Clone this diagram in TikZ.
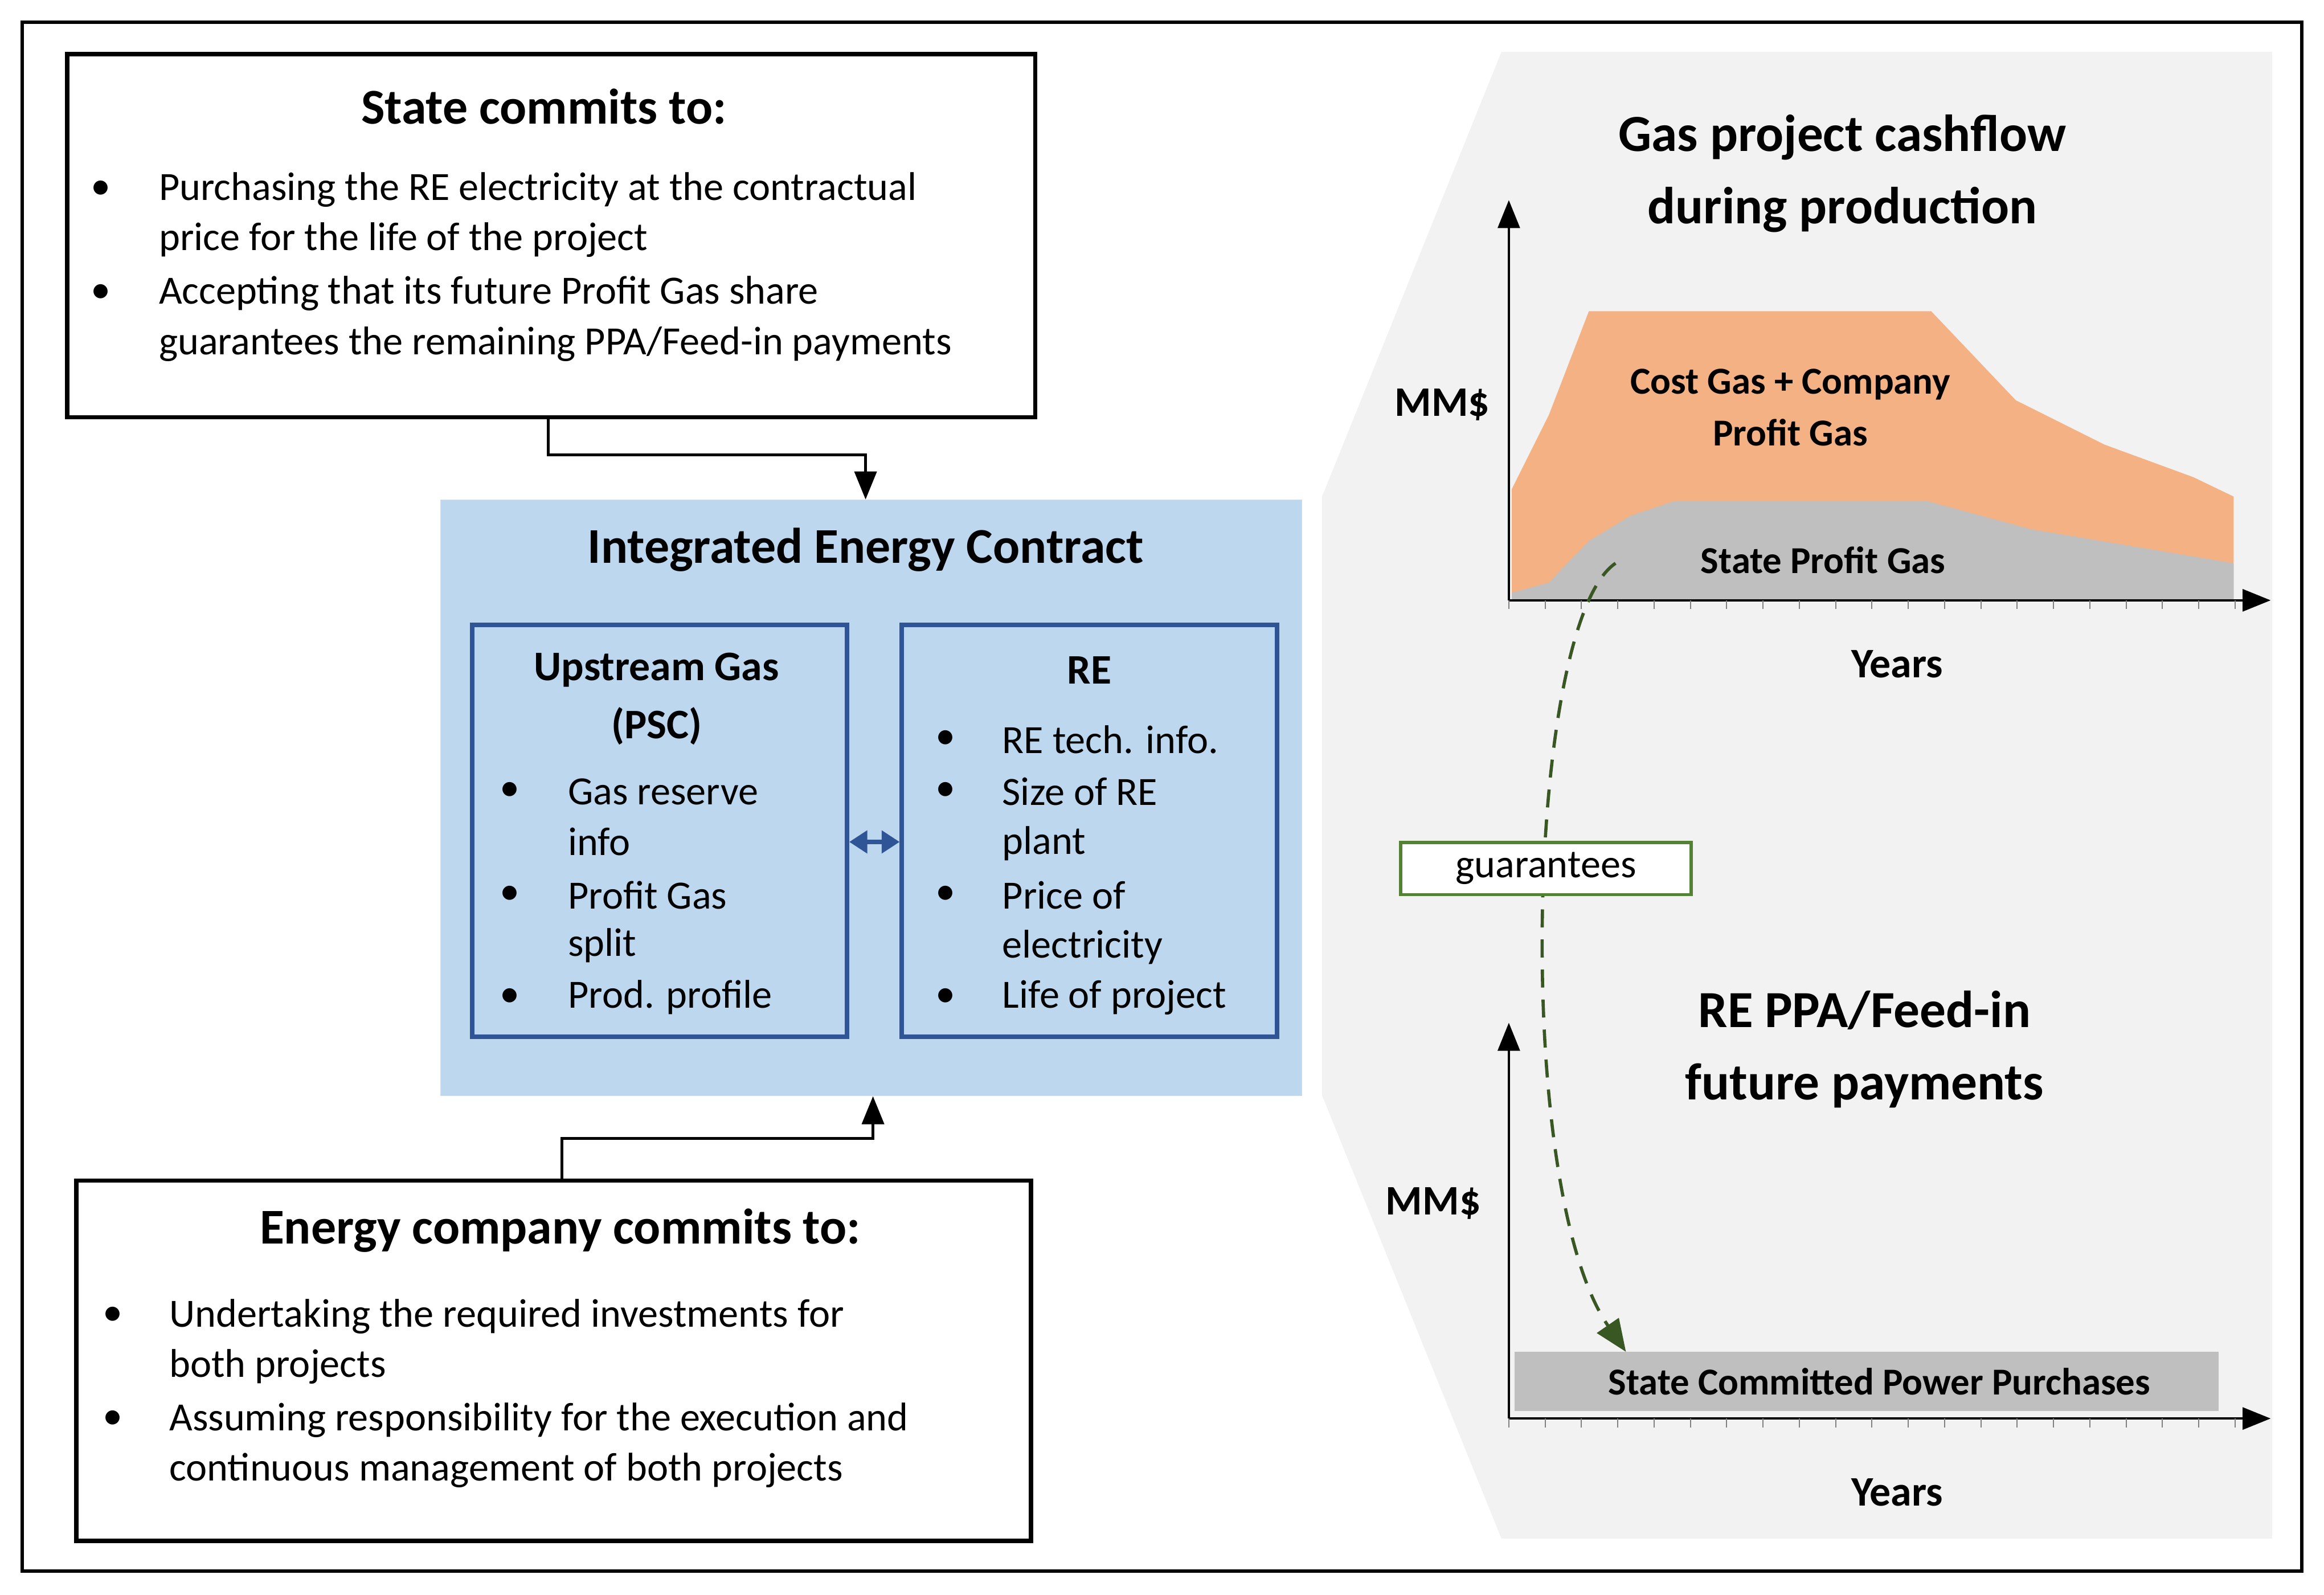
\documentclass[tikz,border=0pt]{standalone}
\usepackage{fontspec}
\setmainfont{Carlito}
\usetikzlibrary{arrows.meta}
\definecolor{bluebg}{RGB}{189,215,238}
\definecolor{bluedk}{RGB}{47,85,151}
\definecolor{orng}{RGB}{244,177,131}
\definecolor{gry}{RGB}{191,191,191}
\definecolor{panel}{RGB}{242,242,242}
\definecolor{grn}{RGB}{84,130,53}
\definecolor{grndk}{RGB}{56,87,35}
\begin{document}
\begin{tikzpicture}[x=0.02602cm,y=-0.02602cm,
 body/.style={anchor=west,inner sep=0,font=\fontsize{20}{24}\selectfont},
 bul/.style={inner sep=0,font=\fontsize{20}{24}\selectfont},
 ttl/.style={inner sep=0,font=\fontsize{25}{30}\selectfont\bfseries},
 sub/.style={inner sep=0,font=\fontsize{21}{25}\selectfont\bfseries},
 lab/.style={inner sep=0,font=\fontsize{19}{23}\selectfont\bfseries},
 blk/.style={draw=black,line width=2.2pt},
 arr/.style={line width=1.5pt,-{Triangle[length=14pt,width=11pt]}},
 ax/.style={line width=1.2pt,-{Triangle[length=14pt,width=11pt]}}]
\useasboundingbox (0,0) rectangle (1568,1076);
\draw[line width=1.8pt] (15,15) rectangle (1553,1060);
% grey panel
\fill[panel] (892,335) -- (1013,35) -- (1533,35) -- (1533,1038) -- (1013,1038) -- (892,739) -- cycle;
% State box
\node[blk,minimum width=653*0.02602cm,minimum height=245*0.02602cm,anchor=north west] (state) at (44,35) {};
\node[ttl] (st) at (367,72) {State commits to:};
\foreach \y/\t in {128/{Purchasing the RE electricity at the contractual},162/{price for the life of the project},198/{Accepting that its future Profit Gas share},232/{guarantees the remaining PPA/Feed-in payments}}{\node[body] at (107,\y) {\t};}
\node[bul] (b1) at (68,128) {•}; \node[bul] (b2) at (68,198) {•};
% Energy box
\node[blk,minimum width=644*0.02602cm,minimum height=243*0.02602cm,anchor=north west] (energy) at (50,795) {};
\node[ttl] (et) at (378,830) {Energy company commits to:};
\foreach \y/\t in {888/{Undertaking the required investments for},922/{both projects},958/{Assuming responsibility for the execution and},992/{continuous management of both projects}}{\node[body] at (114,\y) {\t};}
\node[bul] (b3) at (76,888) {•}; \node[bul] (b4) at (76,958) {•};
% IEC
\node[fill=bluebg,draw=bluebg!80!white,minimum width=581*0.02602cm,minimum height=402*0.02602cm,anchor=north west] (iec) at (297,337) {};
\node[ttl] (it) at (584,371) {Integrated Energy Contract};
\node[draw=bluedk,line width=2.2pt,minimum width=253*0.02602cm,minimum height=278*0.02602cm,anchor=north west] (up) at (317,420) {};
\node[draw=bluedk,line width=2.2pt,minimum width=253*0.02602cm,minimum height=278*0.02602cm,anchor=north west] (re) at (607,420) {};
\node[sub] (ut1) at (443,452) {Upstream Gas};
\node[sub] (ut2) at (443,490) {(PSC)};
\node[sub] (rt) at (735,452) {RE};
\foreach \y/\t in {534/{Gas reserve},568/{info},604/{Profit Gas},638/{split},673/{Prod. profile}}{\node[body] at (383,\y) {\t};}
\foreach \y in {534,604,673}{\node[bul] at (344,\y) {•};}
\foreach \y/\t in {499/{RE tech. info.},534/{Size of RE},569/{plant},604/{Price of},639/{electricity},673/{Life of project}}{\node[body] at (676,\y) {\t};}
\foreach \y in {499,534,604,673}{\node[bul] at (638,\y) {•};}
\draw[bluedk,line width=2.5pt,{Triangle[length=9pt,width=11pt]}-{Triangle[length=9pt,width=11pt]}] (up.east|-0,568) -- (re.west|-0,568);
% connectors
\coordinate (s1) at (370,307); \coordinate (s2) at (584,307);
\draw[arr] (state.south-|s1) -- (s1) -- (s2) -- (iec.north-|s2);
\coordinate (e1) at (379,768); \coordinate (e2) at (589,768);
\draw[arr] (energy.north-|e1) -- (e1) -- (e2) -- (iec.south-|e2);
% chart 1
\fill[orng] (1020,330) -- (1045,280) -- (1072,210) -- (1303,210) -- (1360,270) -- (1420,300) -- (1480,322) -- (1507,335) -- (1507,405) -- (1020,405) -- cycle;
\fill[gry] (1020,400) -- (1045,393) -- (1072,365) -- (1100,348) -- (1130,338) -- (1300,338) -- (1370,357) -- (1507,380) -- (1507,405) -- (1020,405) -- cycle;
\coordinate (o1) at (1018,405);
\coordinate (y1) at (1018,135); \coordinate (x1) at (1532,405);
\draw[ax] (o1) -- (y1); \draw[ax] (o1) -- (x1);
\foreach \i in {0,...,20}{\draw[gray,line width=0.6pt] (1018+24.5*\i,405) -- (1018+24.5*\i,411);}
\node[ttl,align=center,font=\fontsize{26}{36}\selectfont\bfseries] (c1t) at (1243,117) {Gas project cashflow\\during production};
\node[sub] (mm1) at (973,273) {MM\$};
\node[lab,align=center,font=\fontsize{19}{26}\selectfont\bfseries] (cg) at (1208,275) {Cost Gas + Company\\Profit Gas};
\node[lab] (spg) at (1230,378) {State Profit Gas};
\node[sub] (yr1) at (1280,448) {Years};
% chart 2
\fill[gry] (1022,912) rectangle (1497,952);
\node[lab] (scp) at (1268,932) {State Committed Power Purchases};
\coordinate (o2) at (1018,957);
\coordinate (y2) at (1018,690); \coordinate (x2) at (1532,957);
\draw[ax] (o2) -- (y2); \draw[ax] (o2) -- (x2);
\foreach \i in {0,...,20}{\draw[gray,line width=0.6pt] (1018+24.5*\i,957) -- (1018+24.5*\i,963);}
\node[ttl,align=center,font=\fontsize{26}{36}\selectfont\bfseries] (c2t) at (1258,708) {RE PPA/Feed-in\\future payments};
\node[sub] (mm2) at (967,812) {MM\$};
\node[sub] (yr2) at (1280,1007) {Years};
% guarantees
\coordinate (g1) at (1090,380); \coordinate (g2) at (1097,912);
\draw[grndk,line width=1.6pt,dash pattern=on 9pt off 6pt,-{Triangle[length=16pt,width=13pt]}] (g1) .. controls (1030,420) and (1020,800) .. (g2);
\node[draw=grn,fill=white,line width=1.6pt,minimum width=196*0.02602cm,minimum height=35*0.02602cm,font=\fontsize{20}{24}\selectfont] (gu) at (1043,586) {guarantees};
\end{tikzpicture}
\end{document}
